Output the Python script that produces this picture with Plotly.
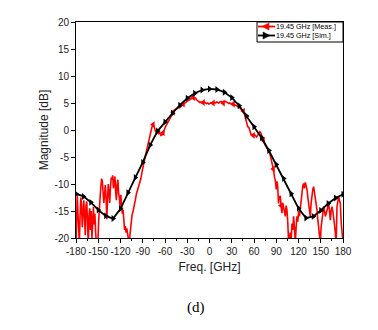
import plotly.graph_objects as go

# ---------------- data ----------------
sim_freq = [-180, -170, -160, -150, -140, -130, -120, -110, -100, -90, -80, -70, -60,
            -50, -40, -30, -20, -10, 0, 10, 20, 30, 40, 50, 60, 70, 80, 90, 100,
            110, 120, 130, 140, 150, 160, 170, 180]
sim_mag = [-11.8, -12.3, -13.4, -14.8, -15.9, -16.4, -14.6, -11.6, -8.8, -6.0, -2.8, -0.2, 1.5,
           3.1, 4.6, 5.9, 6.8, 7.4, 7.6, 7.5, 7.0, 6.0, 4.5, 2.6, 0.6, -1.4, -3.8, -6.4, -9.0,
           -11.8, -14.5, -16.3, -16.0, -14.9, -13.6, -12.6, -11.9]

meas_freq = [-180, -179, -178.3, -177.5, -176.5, -175.5, -174.5, -173.5, -172.5, -171.5, -170.5,
             -169.5, -168.5, -167.5, -166.5, -165.5, -164.5, -163.5, -162.5, -161.5, -160.5,
             -159.5, -158.5, -157.5, -156.5, -155.5, -154.5, -153.5, -152.5, -151.5, -150.5,
             -149.5, -148.5, -147.5, -146.5, -145.5, -144.5, -143.5, -142.5, -141.5, -140.5,
             -139.5, -138.5, -137.5, -136.5, -135.5, -134.5, -133.5, -132.5, -131.5, -130.5,
             -129.5, -128.5, -127.5, -126.5, -125.5, -124.5, -123.5, -122.5, -121.5, -120.5,
             -119.5, -118.5, -117.5, -116.5, -115.5, -114.5, -113.5, -112.5, -111.5, -110.5,
             -109.5, -108.5, -107.5, -106.5, -105.5, -104.5, -103, -101.5, -100, -98.5,
             -97, -95.5, -94, -92.5, -91, -89.5, -88, -86.5, -85, -83.5,
             -82, -80.5, -79, -77.5, -76, -74.5, -73, -71.5, -70, -68.5,
             -67, -65.5, -64, -62.5, -61, -59.5, -58, -56.5, -55, -53.5,
             -52, -50.5, -49, -47.5, -46, -44.5, -43, -41.5, -40, -38.5,
             -37, -35.5, -34, -32.5, -31, -29.5, -28, -26.5, -25, -23.5,
             -22, -20.5, -19, -17.5, -16, -14.5, -13, -11.5, -10, -8.5,
             -7, -5.5, -4, -2.5, -1, 0.5, 2, 3.5, 5, 6.5,
             8, 9.5, 11, 12.5, 14, 15.5, 17, 18.5, 20, 21.5,
             23, 24.5, 26, 27.5, 29, 30.5, 32, 33.5, 35, 36.5,
             38, 39.5, 41, 42.5, 44, 45.5, 47, 48.5, 50, 51.5,
             53, 54.5, 56, 57.5, 59, 60.5, 62, 63.5, 65, 66.5,
             68, 69.5, 71, 72.5, 74, 75.5, 77, 78.5, 80, 81.5,
             83, 84.5, 86, 87.5, 89, 90, 91, 92, 93, 94,
             95.4, 96.5, 97.7, 98.8, 99.9, 101, 102.2, 103.3, 104.4, 105.5,
             106.7, 107.8, 108.9, 110, 111.2, 112.3, 113.4, 114.5, 115.7, 116.8,
             117.9, 119, 120.2, 121.3, 122.4, 123.5, 124.7, 125.8, 126.9, 128,
             129.2, 130.3, 131.4, 132.5, 133.7, 134.8, 135.9, 137, 138.2, 139.3,
             140.4, 141.5, 142.7, 143.8, 144.9, 146, 147.2, 148.3, 149.4, 150.5,
             151.7, 152.8, 153.9, 155, 156.2, 157.3, 158.4, 159.5, 160.7, 161.8,
             162.9, 164, 165.2, 166.3, 167.4, 168.5, 169.7, 170.8, 171.9, 173,
             174.2, 175.3, 176.4, 177.5, 178.7, 180]
meas_mag = [-21, -16, -12.0, -15, -19.5, -21, -16, -12.5, -14, -18, -15.5,
            -13, -16, -19.5, -14, -13.2, -17, -21, -16, -14.5, -18.5,
            -15, -20, -16, -14.2, -17.5, -15.5, -19, -21, -20, -21,
            -17, -15.5, -12.5, -10.5, -9.0, -9.5, -11.5, -13.5, -12, -10.2,
            -12.5, -16.5, -13, -10, -11.5, -13.5, -10.5, -8.8, -9.2, -8.4,
            -10.8, -9.6, -8.6, -11.5, -13, -10, -9.2, -11.8, -12.5, -14.5,
            -12, -14, -15.5, -14.8, -16.5, -18.5, -17.8, -19, -18.2, -19.5,
            -20.5, -21, -19.8, -18, -17, -15.8, -15, -13.5, -13, -11.8,
            -11.2, -10.5, -9.6, -9, -7.8, -7.0, -5.8, -4.8, -3.8, -2.8,
            -1.8, -0.8, 0.0, 0.6, 1.0, 0.6, -0.2, -0.6, -0.3, -0.7,
            -0.5, -1.0, -0.9, -0.5, 0.0, 0.6, 1.0, 1.3, 1.6, 2.2,
            2.6, 3.0, 3.3, 3.6, 3.8, 3.9, 4.0, 4.2, 4.1, 4.4,
            4.6, 4.8, 4.9, 5.1, 5.2, 5.4, 5.5, 5.6, 5.8, 5.9,
            6.0, 5.8, 5.9, 5.6, 5.4, 5.3, 5.1, 5.2, 5.0, 5.1,
            5.2, 5.0, 4.9, 5.0, 4.8, 4.9, 5.0, 4.9, 5.0, 5.1,
            5.0, 5.2, 5.1, 5.0, 5.2, 5.3, 5.1, 5.0, 5.1, 5.3,
            5.2, 5.0, 4.9, 5.0, 4.8, 4.7, 4.8, 4.6, 4.6, 4.5,
            4.3, 4.2, 4.1, 3.9, 3.7, 3.5, 3.0, 2.2, 1.2, 0.6,
            0.5, 0.0, -0.8, -0.9, -1.0, -0.8, -1.2, -1.3, -1.0, -0.6,
            -0.3, -0.6, -1.4, -1.9, -2.5, -2.9, -3.2, -3.6, -4.0, -4.4,
            -5.2, -6.0, -7.2, -8.6, -9.6, -11, -9.5, -10.5, -13.6, -12.5,
            -12.2, -14, -15.4, -13.5, -14.2, -15.5, -16.0, -14, -14.8, -17,
            -21, -20, -19, -21, -17.3, -18.5, -16, -18, -21, -18,
            -16, -17, -15, -16, -14.2, -12.5, -11, -10.3, -9.9, -10.8,
            -9.7, -10.2, -11, -12.4, -13.6, -14.5, -16, -13.6, -11.7, -11.0,
            -10.5, -11.5, -12.3, -13.5, -14.8, -16.5, -17.9, -19.5, -21, -18,
            -16.7, -15, -14.2, -15, -16.0, -15.5, -14.8, -14, -13.6, -15,
            -16.7, -15, -14.2, -15, -16, -17.5, -19.1, -21, -14.2, -13,
            -12.3, -13, -13.6, -17, -20.3, -21]

legend_labels = ["19.45 GHz [Meas.]", "19.45 GHz [Sim.]"]
x_ticks = [-180, -150, -120, -90, -60, -30, 0, 30, 60, 90, 120, 150, 180]
y_ticks = [-20, -15, -10, -5, 0, 5, 10, 15, 20]

RED = "#ff0000"
BLACK = "#000000"

fig = go.Figure()
# measured line
fig.add_trace(go.Scatter(x=meas_freq, y=meas_mag, mode="lines",
                         line=dict(color=RED, width=1.6), showlegend=False))
# measured markers (sparse, as Origin draws them)
fig.add_trace(go.Scatter(x=meas_freq[95:215:9], y=meas_mag[95:215:9], mode="markers",
                         marker=dict(symbol="triangle-left", size=6, color=RED),
                         showlegend=False))
# simulated
fig.add_trace(go.Scatter(x=sim_freq, y=sim_mag, mode="lines+markers",
                         line=dict(color=BLACK, width=1.8),
                         marker=dict(symbol="triangle-right", size=6, color=BLACK),
                         showlegend=False))

# manual compact legend (Origin style)
L = 76.0; R = 343.0; T = 22.0; B = 238.0
def px(xp):
    return (xp - L) / (R - L)
def py(yp):
    return (B - yp) / (B - T)

shapes = [dict(type="rect", xref="paper", yref="paper", x0=px(257), x1=px(343),
               y0=py(42), y1=py(22), line=dict(color=BLACK, width=1), fillcolor="white")]
rows = [(26.5, RED, "M -4 0 L 3 3.5 L 3 -3.5 Z"),
        (35.5, BLACK, "M 4 0 L -3 3.5 L -3 -3.5 Z")]
annotations = []
for (yrow, col, path), label in zip(rows, legend_labels):
    shapes.append(dict(type="line", xref="paper", yref="paper", x0=px(258), x1=px(275),
                       y0=py(yrow), y1=py(yrow), line=dict(color=col, width=1.8)))
    shapes.append(dict(type="path", xref="paper", yref="paper", xsizemode="pixel",
                       ysizemode="pixel", xanchor=px(266), yanchor=py(yrow), path=path,
                       fillcolor=col, line=dict(color=col, width=0.5)))
    annotations.append(dict(xref="paper", yref="paper", x=px(275), y=py(yrow), text=label,
                            showarrow=False, xanchor="left", yanchor="middle",
                            borderpad=0,
                            font=dict(family="Arial, Liberation Sans", size=7.2,
                                      color=BLACK)))

annotations.append(dict(xref="paper", yref="paper", x=px(196), y=py(307), text="(d)",
                        showarrow=False, xanchor="center", yanchor="middle",
                        font=dict(family="Times New Roman, Liberation Serif", size=15,
                                  color=BLACK)))

axis_common = dict(showgrid=False, zeroline=False, showline=True, linecolor=BLACK,
                   linewidth=1, mirror=True, ticks="outside", ticklen=4, tickwidth=1,
                   tickcolor=BLACK,
                   tickfont=dict(family="Arial, Liberation Sans", size=10, color="#222222"))

fig.update_layout(
    width=378, height=330,
    margin=dict(l=76, r=35, t=22, b=92),
    paper_bgcolor="white", plot_bgcolor="white",
    showlegend=False,
    shapes=shapes, annotations=annotations,
    xaxis=dict(range=[-180, 180], tickvals=x_ticks, tickangle=0,
               ticktext=[str(v) for v in x_ticks],
               minor=dict(dtick=15, tick0=-180, ticks="outside", ticklen=2,
                          tickcolor=BLACK),
               title=dict(text="Freq. [GHz]", standoff=6,
                          font=dict(family="Arial, Liberation Sans", size=12,
                                    color="#222222")),
               **axis_common),
    yaxis=dict(range=[-20, 20], tickvals=y_ticks,
               ticktext=[str(v) for v in y_ticks],
               title=dict(text="Magnitude [dB]", standoff=3,
                          font=dict(family="Arial, Liberation Sans", size=12,
                                    color="#222222")),
               **axis_common),
)

fig.write_html("out.html")
